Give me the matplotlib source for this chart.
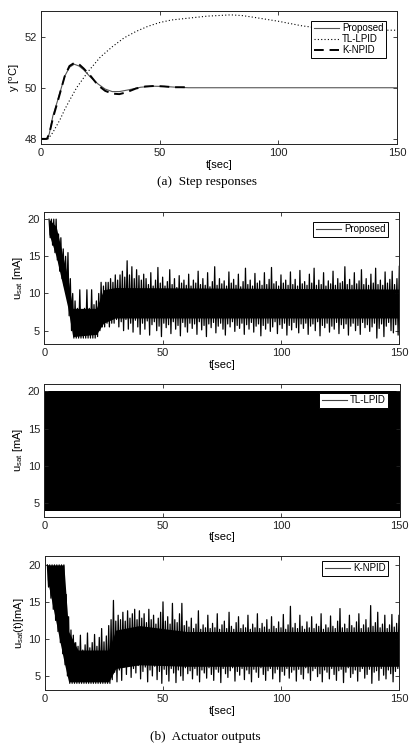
import numpy as np
import matplotlib
matplotlib.use('Agg')
import matplotlib.pyplot as plt

plt.rcParams['font.family'] = ['Liberation Sans', 'DejaVu Sans']
plt.rcParams['mathtext.fontset'] = 'custom'
plt.rcParams['mathtext.rm'] = 'Liberation Sans'
plt.rcParams['mathtext.it'] = 'Liberation Sans'

# (a) step responses
prop_t = [0, 2.5, 3.5, 5, 7, 10, 12, 14, 16, 18, 21, 24, 27, 30, 33, 37, 42, 47, 52, 57, 62, 150]
prop_y = [48, 48, 48.2, 48.9, 49.5, 50.45, 50.8, 50.92, 50.85, 50.7, 50.4, 50.15, 49.95, 49.85,
          49.85, 49.92, 50.02, 50.06, 50.05, 50.02, 50.0, 50.0]

tl_t = [0, 3, 5, 8, 10, 12, 15, 20, 25, 30, 35, 40, 45, 50, 55, 60, 70, 80, 85, 90, 100, 110,
        120, 130, 140, 150]
tl_y = [48, 48, 48.25, 48.75, 49.15, 49.5, 50.0, 50.65, 51.2, 51.6, 51.95, 52.2, 52.4, 52.55,
        52.65, 52.7, 52.8, 52.85, 52.82, 52.75, 52.6, 52.42, 52.3, 52.25, 52.25, 52.25]

knpid_t = [0, 2.5, 3.5, 5, 7, 10, 12, 14, 16, 18, 21, 24, 27, 30, 33, 36, 40, 44, 48, 52, 56, 60, 63]
knpid_y = [48, 48, 48.2, 48.8, 49.45, 50.45, 50.85, 50.97, 50.92, 50.75, 50.45, 50.1, 49.88,
           49.77, 49.75, 49.82, 49.97, 50.05, 50.07, 50.05, 50.02, 50.02, 50.03]

# (b) actuator outputs: upper / lower swing of the chattering signal, one pair per second
prop_u_t0 = 2
prop_u_hi = [20, 20, 20, 20, 18, 17.5, 16, 15, 15.5, 12,
             10, 9, 8, 10.5, 7.5, 8, 10.5, 8, 10.5, 8.5,
             9, 10, 11.5, 11, 11.5, 11.5, 12, 11.5, 12.5, 11.8,
             12.5, 13, 12.2, 14.4, 12.5, 13.6, 12, 13.2, 12.4, 11.8,
             12.6, 12.0, 11.2, 12.8, 11.0, 11.8, 13.5, 11.4, 12.2, 11.0,
             11.6, 13.2, 11.2, 12.0, 10.8, 12.4, 11.4, 11.8, 11.1, 12.6,
             11.0, 11.8, 11.4, 13.0, 11.2, 12.0, 11.1, 12.8, 10.9, 11.6,
             13.6, 11.1, 12.0, 11.3, 11.7, 11.0, 12.9, 11.4, 11.9, 11.1,
             12.6, 10.9, 11.6, 13.4, 11.2, 11.8, 11.0, 12.7, 11.4, 11.7,
             11.1, 12.8, 11.2, 11.9, 13.5, 11.3, 11.6, 11.0, 12.5, 11.4,
             11.8, 11.1, 12.9, 11.2, 11.9, 11.0, 13.1, 11.3, 11.6, 11.1,
             12.6, 11.4, 13.4, 11.1, 11.8, 11.2, 12.8, 11.0, 11.7, 11.3,
             13.0, 11.1, 12.0, 11.4, 11.6, 13.6, 11.2, 11.9, 11.1, 12.8,
             11.3, 11.7, 13.2, 11.2, 12.0, 11.1, 12.6, 11.4, 13.4, 11.2,
             11.8, 11.1, 12.9, 11.4, 11.9, 13.0, 11.2, 12.0, 13.7]
prop_u_lo = [17.5, 16.5, 15.5, 14.5, 13, 12, 11, 9.5, 7, 5,
             4, 4, 4, 4, 4, 4, 4, 4, 4, 4,
             4.2, 5, 5.5, 5.5, 6, 5.5, 6, 6, 6.5, 5.5,
             6.2, 5, 6.5, 5.2, 6, 4.8, 6.4, 5.5, 4.5, 6,
             5.2, 6.3, 4.4, 5.8, 6.2, 5, 5.6, 4.2, 6, 5.4,
             5.8, 4.6, 6.2, 5.2, 5.7, 4.3, 6.1, 5.5, 4.8, 6,
             5.3, 5.9, 4.5, 6.2, 5.1, 5.7, 4.2, 5.9, 5.4, 6.1,
             4.7, 5.6, 6, 5.2, 4.4, 5.9, 5.5, 6.2, 4.9, 5.7,
             5.3, 6, 4.5, 5.8, 5.2, 6.1, 4.8, 5.6, 5.9, 4.3,
             5.7, 5.2, 6, 4.9, 5.5, 6.2, 4.6, 5.8, 5.3, 6,
             4.4, 5.7, 5.1, 6.1, 5.4, 4.7, 5.9, 5.3, 6, 4.5,
             5.6, 5.9, 5, 6.2, 4.3, 5.7, 5.4, 6, 4.8, 5.6,
             5.2, 6.1, 4.6, 5.8, 5.3, 5.9, 4.4, 5.6, 6, 5,
             5.7, 4.5, 6.1, 5.4, 5.8, 4.9, 5.5, 6, 4, 5.3,
             5.9, 4.2, 5.6, 6.1, 5, 4.7, 5.8, 4.4, 5.5]
# dense (solid black) part of the band
prop_core_t = [2, 5, 10, 12, 22, 25, 30, 150]
prop_core_hi = [20, 19, 12, 8, 8, 10.5, 10.8, 10.6]
prop_core_lo = [18, 15, 8, 4.2, 4.5, 6, 6.7, 6.7]

tl_u_t = [0, 150]
tl_u_hi = [20, 20]
tl_u_lo = [4, 4]

knpid_u_t0 = 1
knpid_u_hi = [20, 20, 20, 20, 20, 20, 20, 20, 16, 13,
              11.2, 10.5, 9.5, 9, 10.5, 8.5, 9.2, 10.8, 8.8, 9.5,
              10.6, 9.0, 10.2, 11.4, 9.6, 10.4, 11.8, 12.6, 15.2, 12.4,
              13.2, 12.6, 13.6, 12.4, 13.8, 12.8, 13.4, 14.0, 12.6, 13.8,
              12.8, 13.4, 12.2, 14.0, 12.6, 13.2, 12.0, 12.8, 13.6, 15.0,
              12.4, 13.0, 12.0, 14.8, 12.6, 12.2, 13.4, 14.8, 11.8, 12.4,
              11.6, 12.8, 11.4, 12.0, 13.8, 11.3, 11.9, 11.5, 13.2, 11.4,
              12.1, 11.5, 13.4, 11.3, 11.9, 12.4, 11.4, 13.6, 11.7, 11.3,
              12.2, 13.0, 11.4, 11.9, 11.5, 13.2, 11.3, 12.0, 11.5, 13.4,
              11.4, 12.1, 11.6, 12.6, 11.3, 13.0, 11.7, 11.4, 12.3, 11.5,
              13.3, 11.3, 11.9, 14.4, 11.5, 12.1, 11.4, 13.2, 11.7, 11.3,
              12.3, 11.5, 13.0, 11.4, 12.0, 11.7, 13.4, 11.3, 11.9, 11.5,
              13.1, 11.7, 11.4, 12.4, 14.1, 11.5, 12.0, 11.4, 13.2, 11.8,
              11.5, 12.3, 13.4, 11.4, 11.9, 12.6, 11.5, 14.5, 11.7, 12.2,
              13.6, 11.5, 12.0, 13.2, 11.4, 11.9, 13.3, 11.6, 12.1, 13.2]
knpid_u_lo = [17, 15.5, 14, 12.5, 11, 9.5, 8, 6.5, 5, 4,
              4, 4, 4, 4, 4, 4, 4, 4, 4, 4,
              4, 4, 4, 4, 4, 4, 4, 4.5, 5.5, 4.2,
              5.8, 4.4, 6.2, 5.2, 6.6, 4.8, 6.0, 5.4, 6.4, 4.6,
              5.6, 6.2, 4.2, 5.8, 5.0, 6.3, 4.5, 5.6, 4.0, 5.9,
              5.2, 4.3, 6.0, 5.4, 4.1, 5.8, 5.0, 4.4, 6.1, 5.3,
              5.7, 4.6, 6.0, 5.1, 4.2, 5.8, 5.4, 4.7, 6.1, 5.2,
              4.4, 5.9, 5.5, 4.1, 6.0, 5.3, 4.8, 5.7, 6.1, 4.3,
              5.6, 5.1, 6.0, 4.5, 5.8, 5.3, 4.2, 5.9, 5.5, 4.8,
              6.1, 5.2, 4.4, 5.7, 6.0, 4.6, 5.4, 5.9, 4.2, 5.6,
              5.1, 6.0, 4.7, 5.5, 5.8, 4.3, 5.9, 5.2, 4.6, 6.1,
              5.4, 4.4, 5.7, 6.0, 4.9, 5.3, 4.2, 5.8, 5.5, 4.6,
              6.0, 5.2, 4.4, 5.7, 5.9, 4.1, 5.5, 6.1, 4.8, 5.3,
              5.8, 4.3, 5.6, 6.0, 4.7, 5.2, 5.9, 4.0, 5.5, 5.7,
              4.4, 6.0, 5.1, 4.6, 5.8, 5.3, 4.2, 5.6, 6.0, 4.8]
knpid_core_t = [1, 8, 10, 14, 27, 30, 40, 60, 150]
knpid_core_hi = [20, 20, 11, 8.5, 8.5, 11.2, 11.8, 11, 11]
knpid_core_lo = [18, 7, 4.2, 4.2, 4.2, 6, 6.5, 6.3, 6.3]


def style_axes(ax, ylim, yticks):
    ax.set_xlim(0, 150)
    ax.set_ylim(*ylim)
    ax.set_xticks([0, 50, 100, 150])
    ax.set_yticks(yticks)
    ax.tick_params(direction='in', top=True, right=True, length=3, width=0.6,
                   labelsize=8, colors='#222222', pad=3)
    for s in ax.spines.values():
        s.set_linewidth(0.7)
        s.set_color('#222222')
    ax.set_xlabel('t[sec]', fontsize=8, labelpad=1)


def chatter(ax, t0, hi, lo, core_t, core_lo, core_hi, label):
    ax.fill_between(core_t, core_lo, core_hi, color='black', lw=0)
    t = np.arange(t0, t0 + len(hi), dtype=float)
    tz = np.empty(2 * len(t))
    uz = np.empty(2 * len(t))
    tz[0::2] = t
    tz[1::2] = t + 0.5
    uz[0::2] = hi
    uz[1::2] = lo
    ax.plot(tz, uz, color='black', lw=0.9)
    ax.plot([], [], color='#444444', lw=0.8, label=label)


def add_legend(ax, anchor):
    leg = ax.legend(loc='upper right', bbox_to_anchor=anchor, fontsize=7, frameon=True,
                    fancybox=False, framealpha=1, borderpad=0.25, labelspacing=0.1,
                    handlelength=2.6, handletextpad=0.3, borderaxespad=0)
    leg.get_frame().set_edgecolor('black')
    leg.get_frame().set_linewidth(0.7)
    return leg


fig = plt.figure(figsize=(4.14, 7.5), dpi=100)

ax1 = fig.add_axes([0.099, 0.808, 0.860, 0.1773])
ax1.plot(prop_t, prop_y, color='#555555', lw=0.8, label='Proposed')
ax1.plot(tl_t, tl_y, color='black', lw=0.8, ls=(0, (1, 2)), label='TL-LPID')
ax1.plot(knpid_t, knpid_y, color='black', lw=1.4, ls=(0, (5, 3)), label='K-NPID')
style_axes(ax1, (47.8, 53.0), [48, 50, 52])
ax1.set_ylabel(r'y [$^{\mathrm{o}}$C]', fontsize=8, labelpad=2)
add_legend(ax1, (0.969, 0.925))
fig.text(0.5, 0.757, '(a)  Step responses', ha='center', va='center',
         fontsize=9.5, family='Liberation Serif')

ax2 = fig.add_axes([0.107, 0.5413, 0.8575, 0.1764])
chatter(ax2, prop_u_t0, prop_u_hi, prop_u_lo, prop_core_t, prop_core_lo, prop_core_hi, 'Proposed')
style_axes(ax2, (3.2, 21), [5, 10, 15, 20])
ax2.set_ylabel(r'u$_{\mathrm{sat}}$ [mA]', fontsize=8, labelpad=2)
add_legend(ax2, (0.968, 0.924))

ax3 = fig.add_axes([0.107, 0.311, 0.858, 0.177])
ax3.fill_between(tl_u_t, tl_u_lo, tl_u_hi, color='black', lw=0)
ax3.plot([], [], color='#444444', lw=0.8, label='TL-LPID')
style_axes(ax3, (3.2, 21), [5, 10, 15, 20])
ax3.set_ylabel(r'u$_{\mathrm{sat}}$ [mA]', fontsize=8, labelpad=2)
add_legend(ax3, (0.968, 0.932))

ax4 = fig.add_axes([0.1087, 0.08, 0.855, 0.1787])
chatter(ax4, knpid_u_t0, knpid_u_hi, knpid_u_lo, knpid_core_t, knpid_core_lo, knpid_core_hi, 'K-NPID')
style_axes(ax4, (3.1, 21.2), [5, 10, 15, 20])
ax4.set_ylabel(r'u$_{\mathrm{sat}}$(t)[mA]', fontsize=8, labelpad=2)
add_legend(ax4, (0.969, 0.963))
fig.text(0.495, 0.017, '(b)  Actuator outputs', ha='center', va='center',
         fontsize=9.5, family='Liberation Serif')

fig.savefig('out.png', dpi=100)
